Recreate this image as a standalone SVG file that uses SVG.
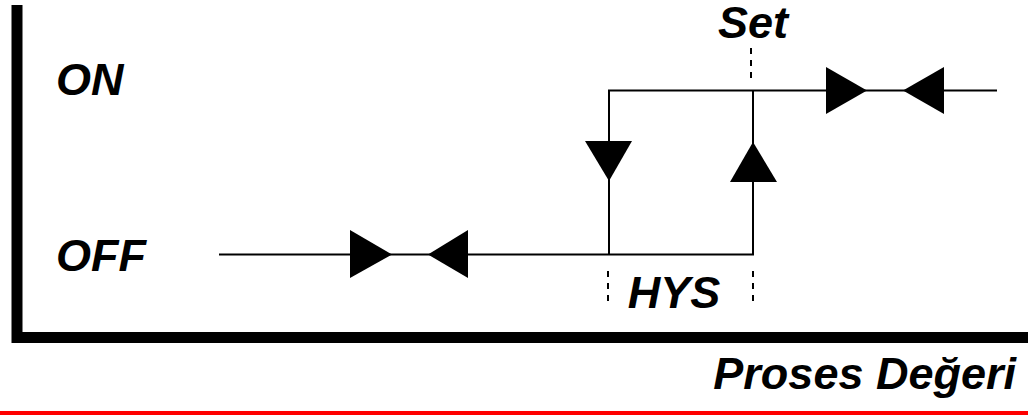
<svg xmlns="http://www.w3.org/2000/svg" width="1028" height="415" viewBox="0 0 1028 415">
<style>
.lbl{font-family:"Liberation Sans",Arial,sans-serif;font-weight:bold;font-style:italic;font-size:45px;fill:#000}
.ln{stroke:#000;stroke-width:2;fill:none}
.dash{stroke:#000;stroke-width:2;stroke-dasharray:6 6;fill:none}
.ah{fill:#000}
</style>
<rect width="1028" height="415" fill="#fff"/>
<g id="axes">
<path d="M17 5 V337.5 H1028" stroke="#000" stroke-width="11" fill="none"/>
</g>
<g id="labels">
<text class="lbl" x="56" y="95">ON</text>
<text class="lbl" x="56" y="271">OFF</text>
<text class="lbl" x="753" y="38" font-size="43" text-anchor="middle">Set</text>
<text class="lbl" x="674" y="308" text-anchor="middle">HYS</text>
<text class="lbl" x="1016" y="389" text-anchor="end">Proses Değeri</text>
</g>
<g id="connectors">
<path class="ln" d="M219 254.5 H753 V90.5"/>
<path class="ln" d="M609 254.5 V90.5 H997"/>
<path class="dash" d="M751 48 V78"/>
<path class="dash" d="M608 271 V301"/>
<path class="dash" d="M753 271 V301"/>
<polygon class="ah" points="350,230 392,254.5 350,278"/>
<polygon class="ah" points="468,230 428,254.5 468,278"/>
<polygon class="ah" points="826,67 867,90.5 826,114"/>
<polygon class="ah" points="944,67 903,90.5 944,114"/>
<polygon class="ah" points="585,141 632,141 609,181"/>
<polygon class="ah" points="730,182 777,182 753,142"/>
</g>
<rect id="redline" x="0" y="411" width="1028" height="4" fill="#ff0000"/>
</svg>
